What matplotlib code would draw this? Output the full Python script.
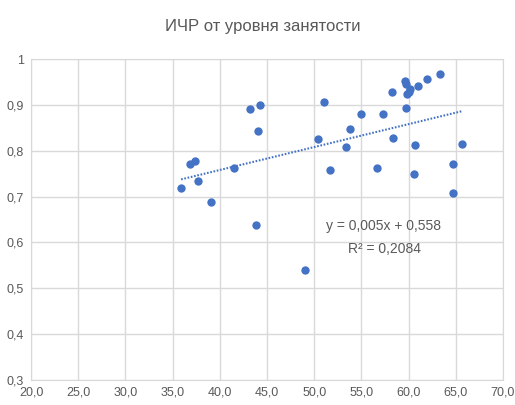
import numpy as np
import matplotlib
matplotlib.use('Agg')
import matplotlib.pyplot as plt
from matplotlib.ticker import FuncFormatter

# employment level (%) vs HDI
employment = [35.9, 36.8, 37.4, 37.7, 39.1, 41.5, 43.2, 44.3, 44.0, 43.8,
              49.0, 50.4, 51.0, 51.7, 53.4, 53.8, 55.0, 56.7, 57.3, 58.3,
              58.2, 59.6, 59.7, 59.7, 59.8, 60.0, 60.2, 60.6, 60.7, 61.0,
              61.9, 63.3, 64.7, 64.7, 65.7]
hdi = [0.719, 0.770, 0.778, 0.735, 0.689, 0.763, 0.891, 0.899, 0.842, 0.637,
       0.539, 0.826, 0.907, 0.758, 0.808, 0.848, 0.880, 0.763, 0.880, 0.827,
       0.927, 0.953, 0.946, 0.894, 0.924, 0.929, 0.934, 0.750, 0.812, 0.941,
       0.956, 0.967, 0.772, 0.708, 0.814]

slope = 0.005
intercept = 0.558
r2 = 0.2084

title = 'ИЧР от уровня занятости'
xticks = [20, 25, 30, 35, 40, 45, 50, 55, 60, 65, 70]
yticks = [0.3, 0.4, 0.5, 0.6, 0.7, 0.8, 0.9, 1.0]

plt.rcParams['font.family'] = ['Liberation Sans', 'DejaVu Sans']
text_col = '#595959'
blue = '#4472C4'
grid_col = '#d9d9d9'

fig = plt.figure(figsize=(5.15, 4.05), dpi=100)
ax = fig.add_axes([0.0602, 0.0617, 0.9165, 0.7926])

ax.scatter(employment, hdi, s=36, color=blue, zorder=3, linewidths=0)

# linear trendline over the data range
xs = np.array([min(employment), max(employment)])
ax.plot(xs, slope * xs + intercept, color=blue, lw=1.5,
        linestyle=(0, (0.8, 0.8)), zorder=2)

ax.set_xlim(20, 70)
ax.set_ylim(0.3, 1.0)
ax.set_xticks(xticks)
ax.set_yticks(yticks)
ax.xaxis.set_major_formatter(FuncFormatter(lambda v, p: f'{v:.1f}'.replace('.', ',')))
ax.yaxis.set_major_formatter(
    FuncFormatter(lambda v, p: '1' if abs(v - 1) < 1e-9 else f'{v:.1f}'.replace('.', ',')))
ax.tick_params(length=0, labelsize=9, labelcolor=text_col, pad=5)
ax.grid(True, color=grid_col, lw=1)
ax.set_axisbelow(True)
for s in ax.spines.values():
    s.set_color(grid_col)

fig.text(0.51, 1 - 27 / 405, title, ha='center', va='center',
         fontsize=12, color=text_col)

# trendline equation
fig.text(384 / 515, 1 - 226 / 405, f'y = {slope:.3f}x + {intercept:.3f}'.replace('.', ','),
         ha='center', va='center', fontsize=10, color=text_col)
fig.text(384 / 515, 1 - 249 / 405, f'R² = {r2:.4f}'.replace('.', ','),
         ha='center', va='center', fontsize=10, color=text_col)

fig.savefig('out.png', dpi=100)
